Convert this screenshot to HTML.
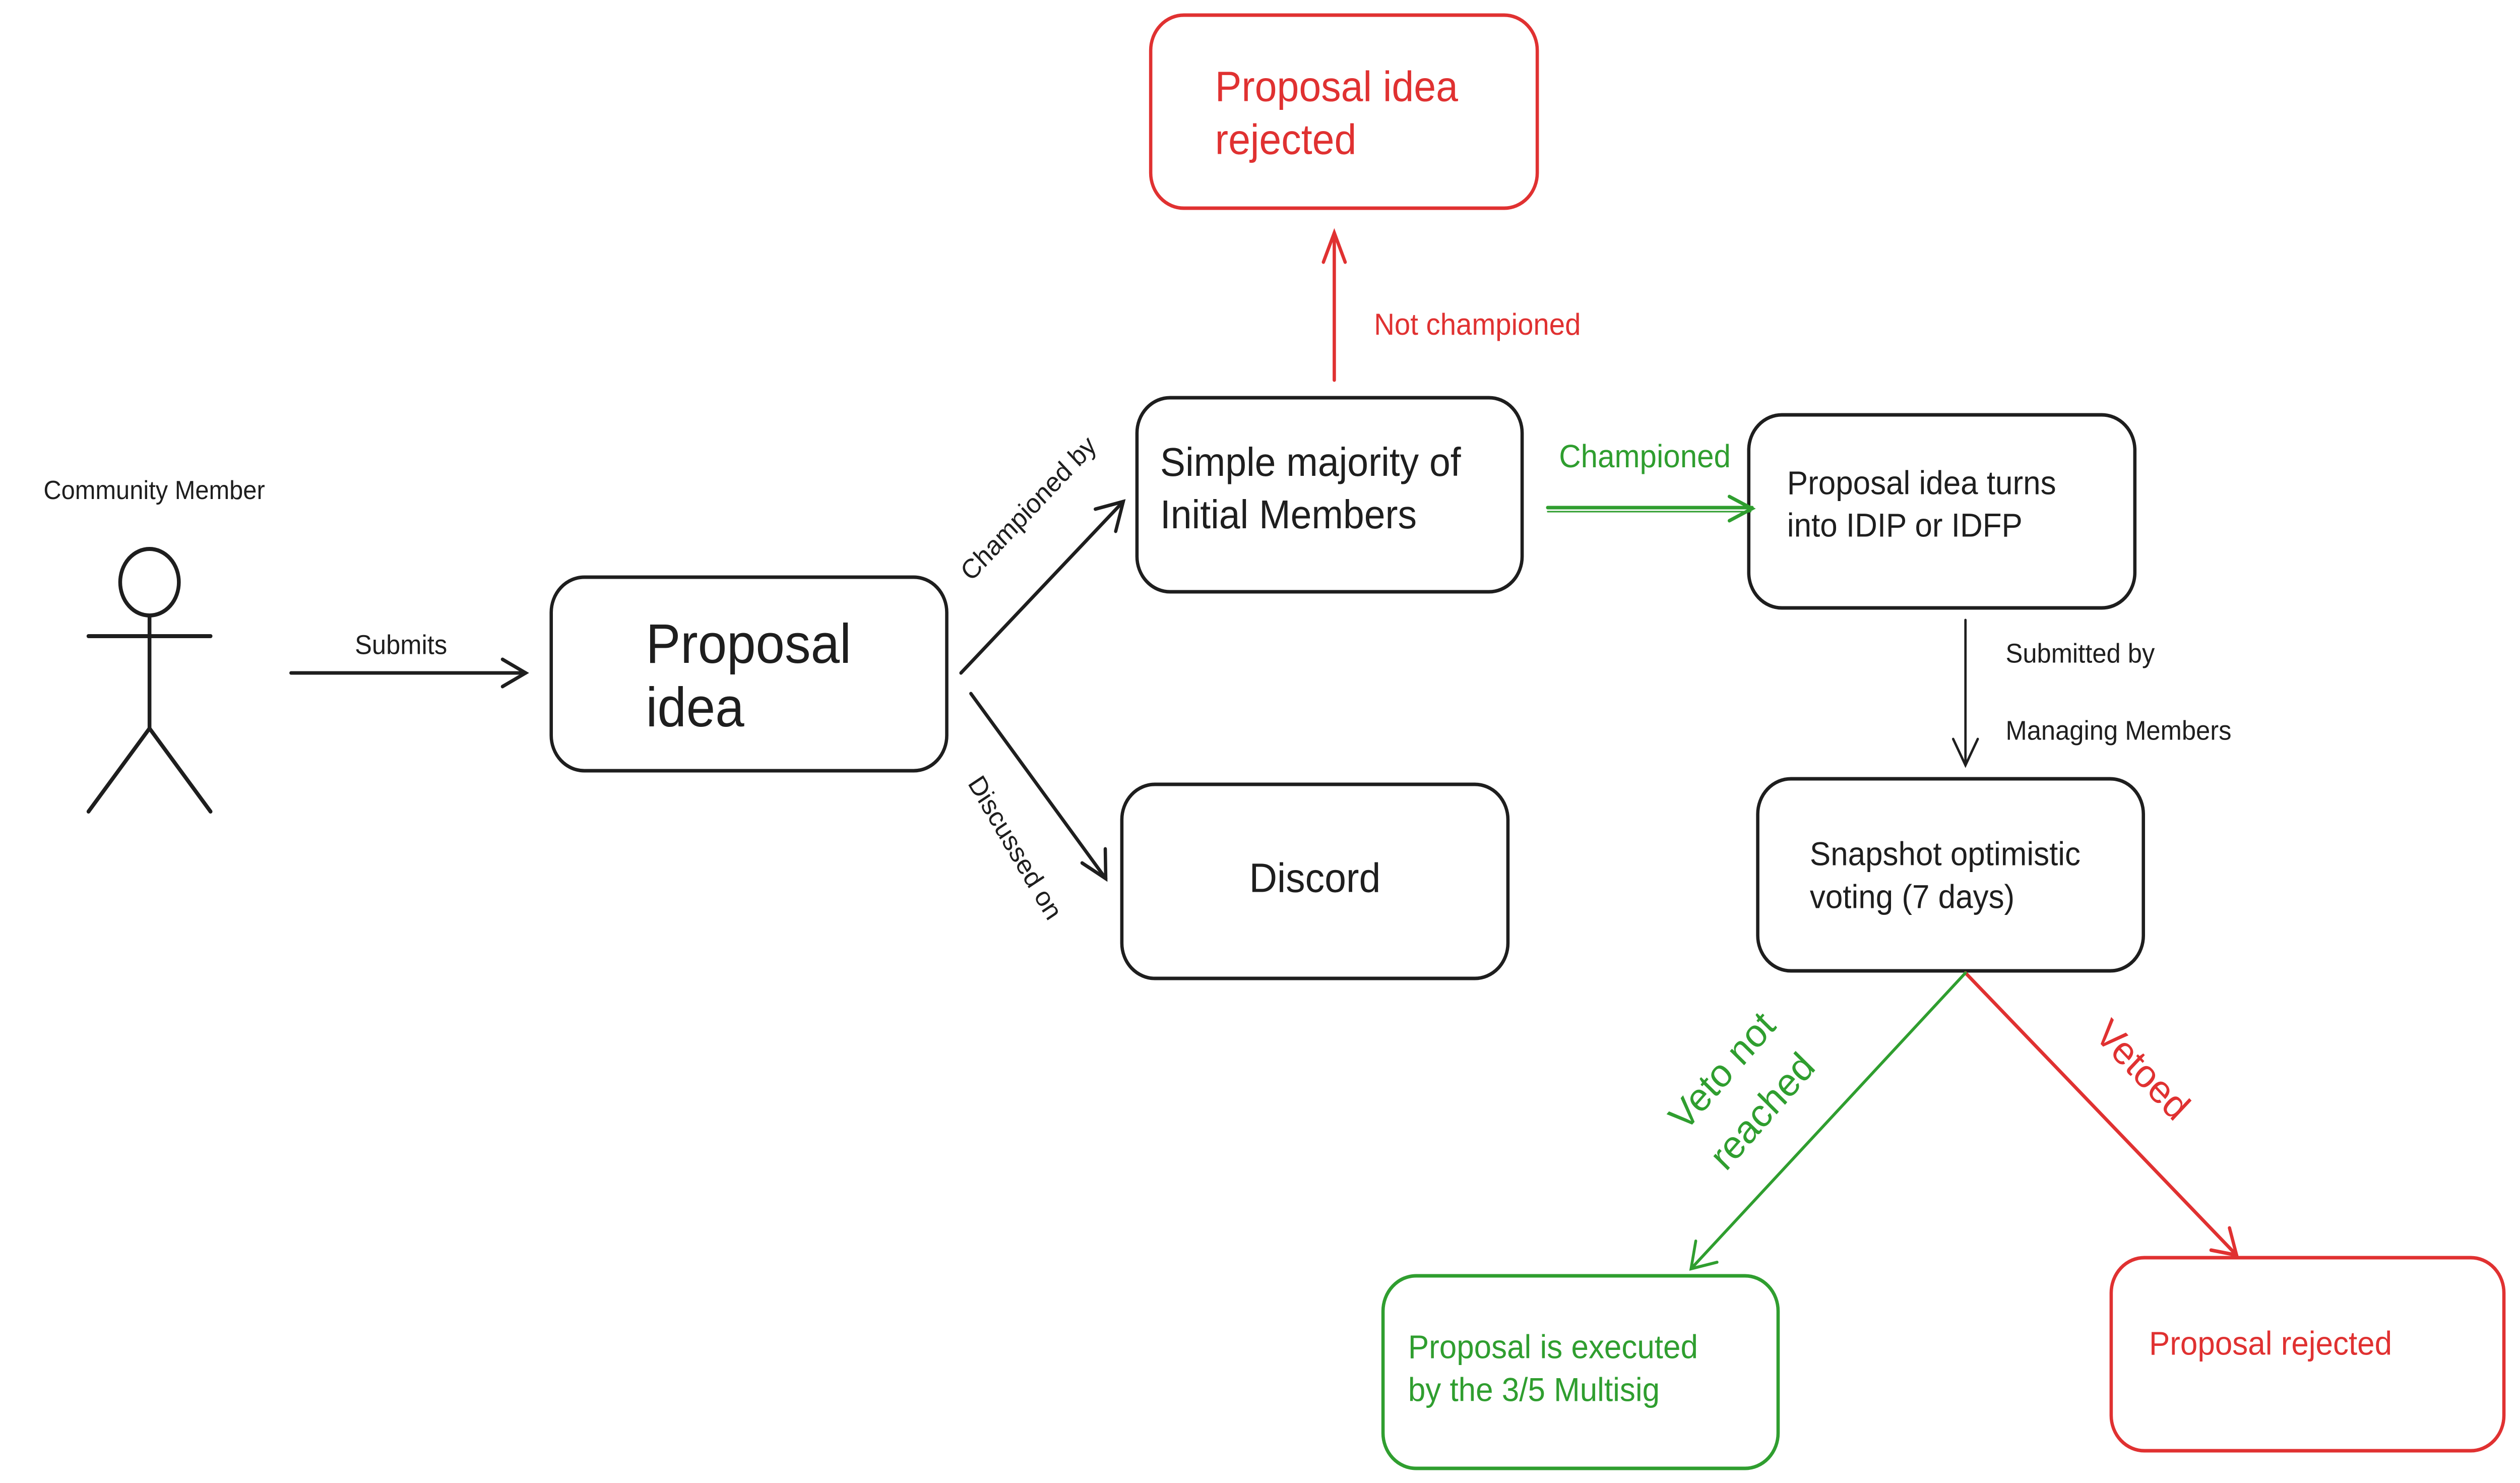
<!DOCTYPE html>
<html><head><meta charset="utf-8"><style>html,body{margin:0;padding:0;background:#fff;width:100%;height:100%;overflow:hidden}svg{display:block;position:absolute;left:0;top:0;width:100vw;height:100vh}text{font-family:"Liberation Sans",sans-serif}</style></head>
<body>
<svg viewBox="0 0 5326 2942" preserveAspectRatio="none" xmlns="http://www.w3.org/2000/svg">
<g fill="none" stroke-width="7" stroke-linecap="round">
<rect x="2432" y="30" width="817" height="383" rx="70" stroke="#e03131"/>
<rect x="2403" y="789" width="814" height="385" rx="70" stroke="#1e1e1e"/>
<rect x="3696" y="823" width="816" height="383" rx="70" stroke="#1e1e1e"/>
<rect x="1165" y="1145" width="836" height="384" rx="70" stroke="#1e1e1e"/>
<rect x="2371" y="1556" width="816" height="385" rx="70" stroke="#1e1e1e"/>
<rect x="3715" y="1545" width="815" height="381" rx="70" stroke="#1e1e1e"/>
<rect x="2923" y="2531" width="835" height="382" rx="70" stroke="#2f9e2f"/>
<rect x="4462" y="2495" width="830" height="383" rx="70" stroke="#e03131"/>
<g stroke="#1e1e1e" stroke-width="8">
<ellipse cx="316" cy="1155" rx="62" ry="66"/>
<line x1="187" y1="1262" x2="445" y2="1262"/>
<line x1="316" y1="1221" x2="316" y2="1445"/>
<line x1="316" y1="1445" x2="187" y2="1610"/>
<line x1="316" y1="1445" x2="445" y2="1610"/>
</g>
<g stroke="#1e1e1e">
<line x1="615" y1="1335" x2="1111" y2="1335"/><path d="M1062,1308 L1111,1335 L1062,1362"/>
<line x1="2031" y1="1335" x2="2374" y2="995"/><path d="M2315,1010 L2374,995 L2358,1054"/>
<line x1="2052" y1="1376" x2="2337" y2="1743"/><path d="M2287,1712 L2337,1743 L2336,1684"/>
<line x1="4154" y1="1230" x2="4154" y2="1518" stroke-width="5"/><path d="M4128,1466 L4154,1518 L4180,1466" stroke-width="5"/>
</g>
<g stroke="#e03131">
<line x1="2820" y1="754" x2="2820" y2="462"/><path d="M2797,520 L2820,462 L2843,520"/>
<line x1="4154" y1="1930" x2="4727" y2="2490"/><path d="M4673,2480 L4727,2490 L4712,2436"/>
</g>
<g stroke="#2f9e2f">
<line x1="3271" y1="1007" x2="3703" y2="1007"/><line x1="3271" y1="1015" x2="3700" y2="1015" stroke-width="3"/><path d="M3655,985 L3703,1009 L3655,1033"/>
<line x1="4154" y1="1930" x2="3574" y2="2517" stroke-width="6"/><path d="M3584,2462 L3574,2517 L3629,2504" stroke-width="6"/>
</g>
</g>
<g dominant-baseline="central">
<text x="92" y="972" font-size="52" fill="#1e1e1e">Community Member</text>
<text x="750" y="1280" font-size="54" fill="#1e1e1e">Submits</text>
<text x="1365" y="1277" font-size="110" fill="#1e1e1e">Proposal</text>
<text x="1365" y="1403" font-size="110" fill="#1e1e1e">idea</text>
<text x="2568" y="172" font-size="84" fill="#e03131">Proposal idea</text>
<text x="2568" y="277" font-size="84" fill="#e03131">rejected</text>
<text x="2904" y="644" font-size="60" fill="#e03131">Not championed</text>
<text x="2452" y="917" font-size="80" fill="#1e1e1e">Simple majority of</text>
<text x="2452" y="1021" font-size="80" fill="#1e1e1e">Initial Members</text>
<text x="3295" y="906" font-size="64" fill="#2f9e2f">Championed</text>
<text x="3777" y="958" font-size="66" fill="#1e1e1e">Proposal idea turns</text>
<text x="3777" y="1042" font-size="66" fill="#1e1e1e">into IDIP or IDFP</text>
<text x="4239" y="1297" font-size="54" fill="#1e1e1e">Submitted by</text>
<text x="4239" y="1450" font-size="54" fill="#1e1e1e">Managing Members</text>
<text x="2779" y="1741" font-size="82" fill="#1e1e1e" text-anchor="middle">Discord</text>
<text x="3825" y="1694" font-size="66" fill="#1e1e1e">Snapshot optimistic</text>
<text x="3825" y="1779" font-size="66" fill="#1e1e1e">voting (7 days)</text>
<text x="2976" y="2672" font-size="66" fill="#2f9e2f">Proposal is executed</text>
<text x="2976" y="2757" font-size="66" fill="#2f9e2f">by the 3/5 Multisig</text>
<text x="4542" y="2665" font-size="66" fill="#e03131">Proposal rejected</text>
<text transform="translate(2174,1009) rotate(-45)" font-size="54" fill="#1e1e1e" text-anchor="middle">Championed by</text>
<text transform="translate(2145,1682) rotate(58)" font-size="54" fill="#1e1e1e" text-anchor="middle">Discussed on</text>
<text transform="translate(3640,2125) rotate(-47)" font-size="78" fill="#2f9e2f" text-anchor="middle">Veto not</text>
<text transform="translate(3725,2205) rotate(-47)" font-size="78" fill="#2f9e2f" text-anchor="middle">reached</text>
<text transform="translate(4528,2123) rotate(45)" font-size="78" fill="#e03131" text-anchor="middle">Vetoed</text>
</g>
</svg>
</body></html>
